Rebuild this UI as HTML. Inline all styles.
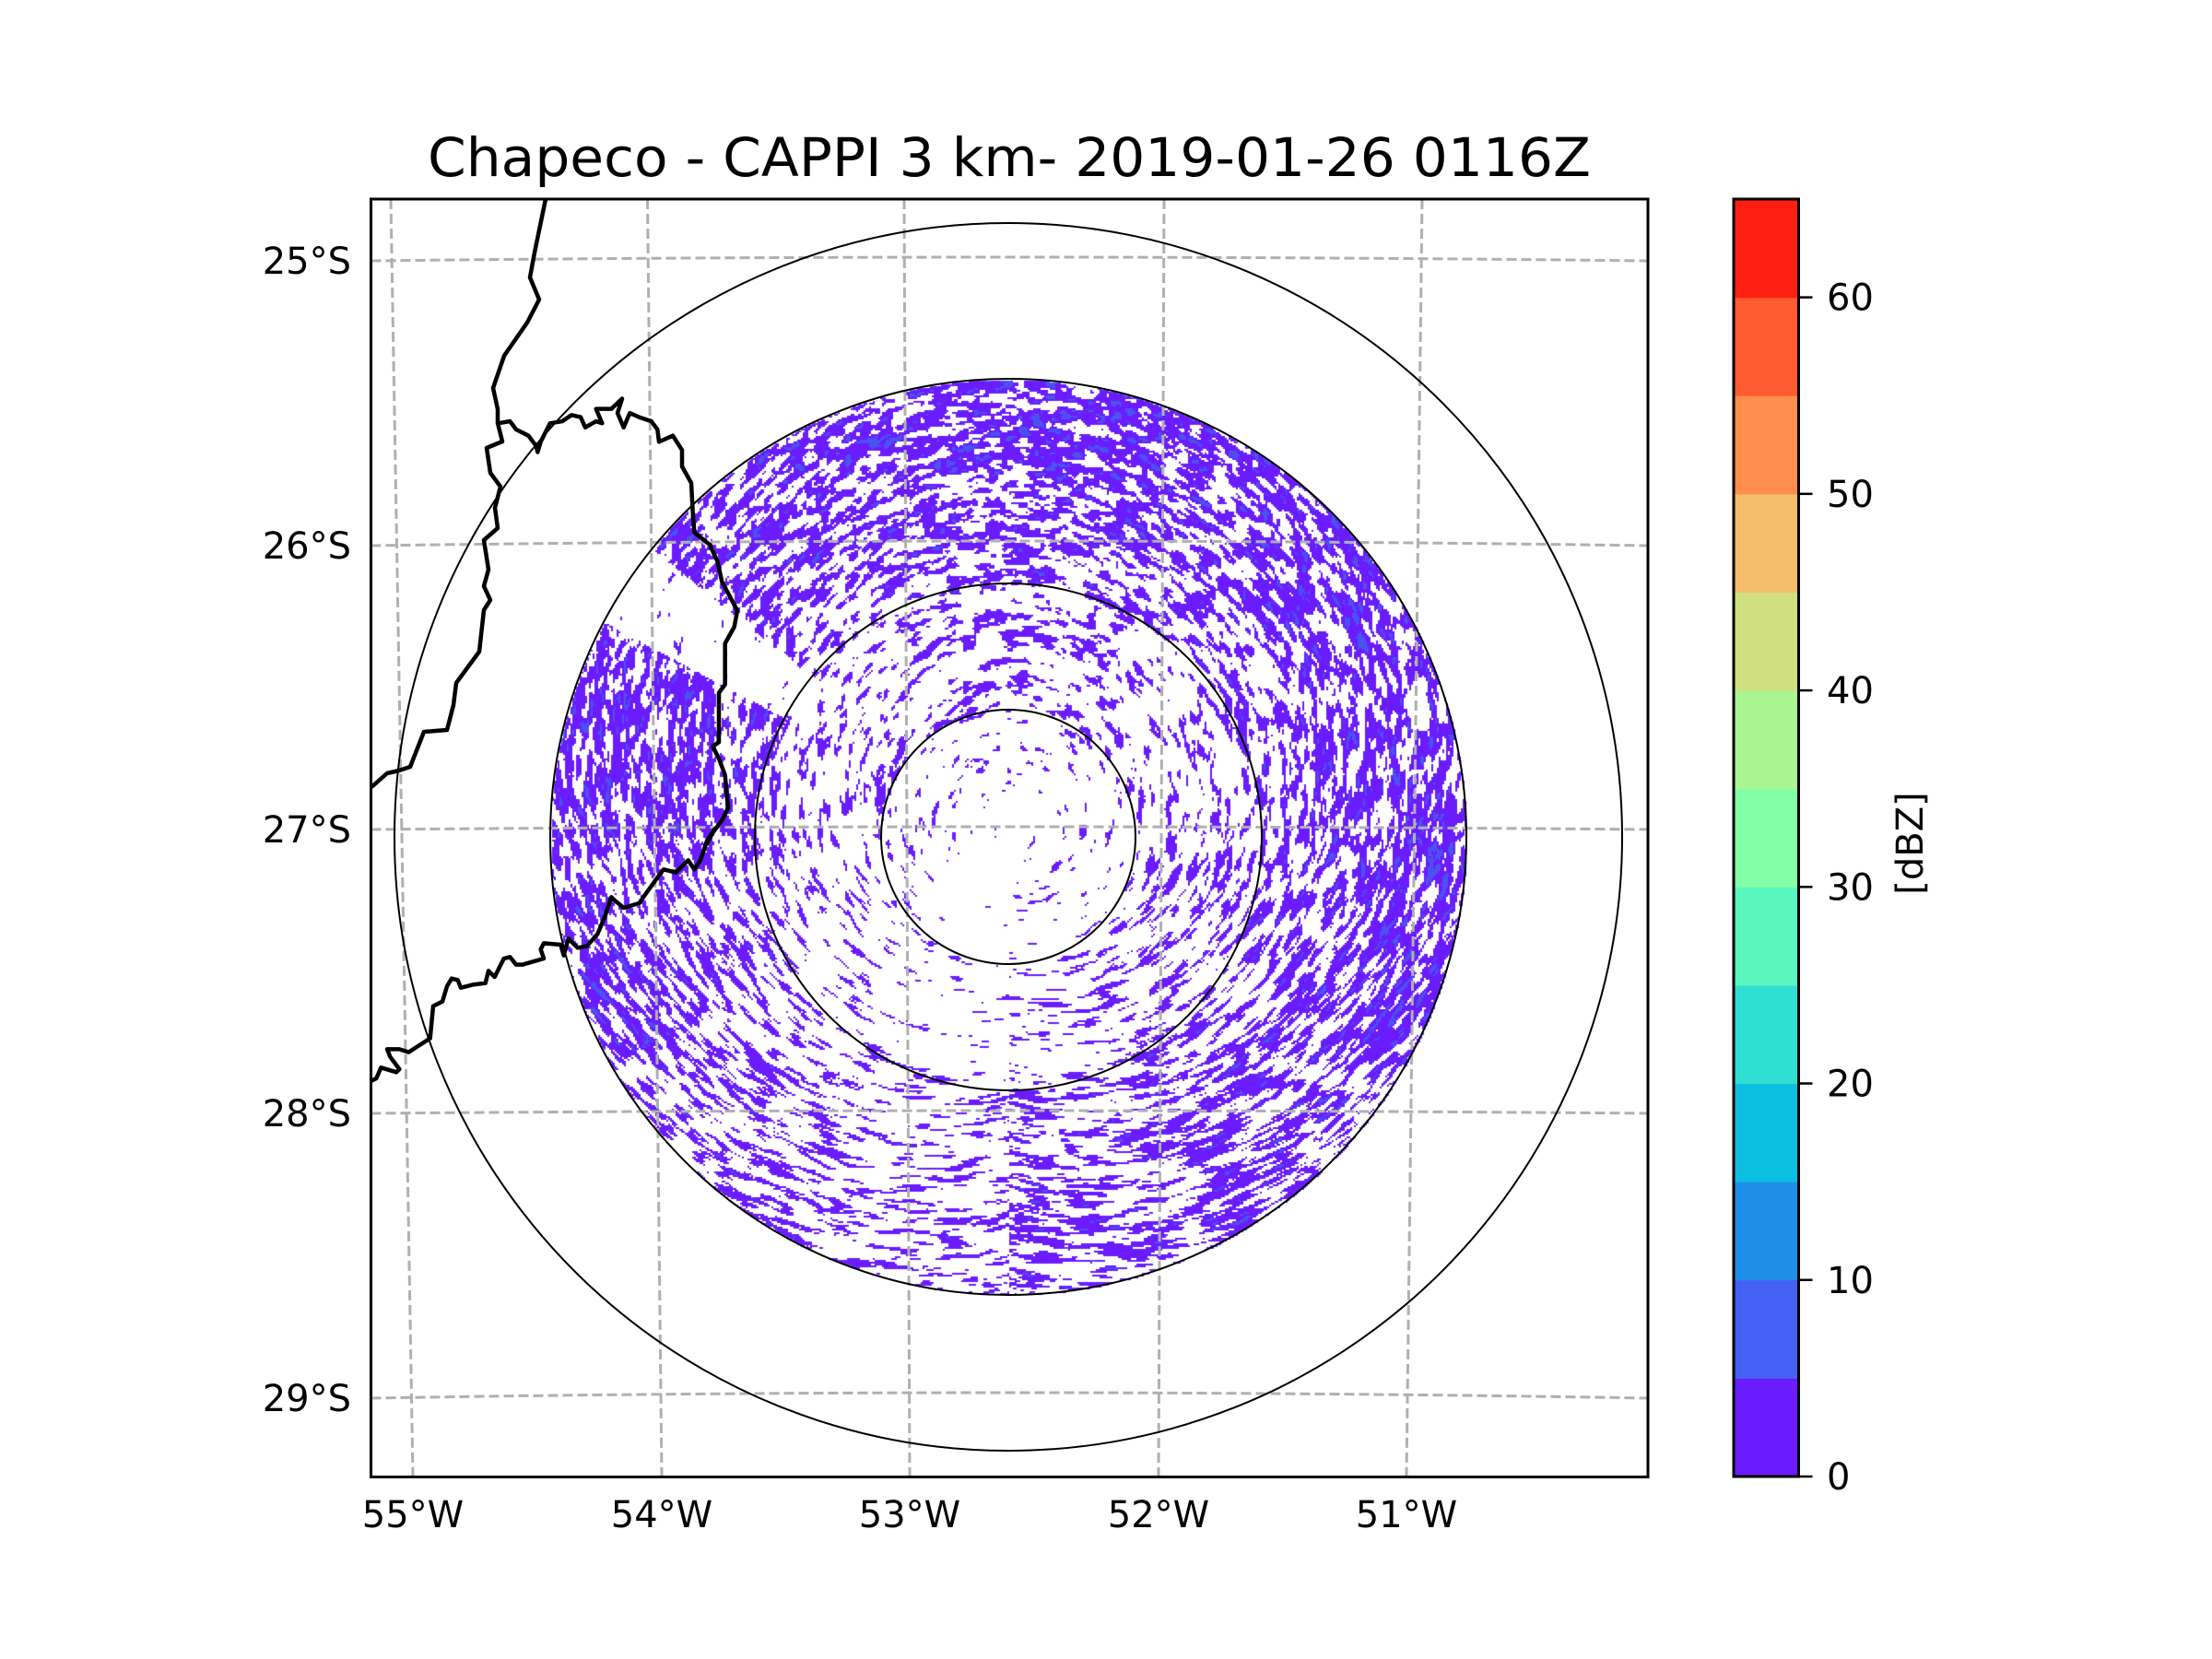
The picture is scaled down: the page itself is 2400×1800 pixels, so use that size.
<!DOCTYPE html>
<html><head><meta charset="utf-8"><style>
html,body{margin:0;padding:0;background:#fff;}
#wrap{position:relative;width:2400px;height:1800px;overflow:hidden;background:#fff;}
#radar{position:absolute;left:0;top:0;}
#ov{position:absolute;left:0;top:0;}
text{font-family:"DejaVu Sans","Liberation Sans",sans-serif;fill:#000;}
</style></head><body>
<div id="wrap">
<canvas id="radar" width="2400" height="1800"></canvas>
<svg id="ov" width="2400" height="1800" xmlns="http://www.w3.org/2000/svg">
<text x="1095" y="191" font-size="58" text-anchor="middle" textLength="1262" lengthAdjust="spacingAndGlyphs">Chapeco - CAPPI 3 km- 2019-01-26 0116Z</text>
<g id="grid"></g>
<g id="rings"></g>
<g id="borders"></g>
<rect x="402.5" y="216" width="1385.5" height="1386.5" fill="none" stroke="#000" stroke-width="3"/>
<g id="xlabels"></g>
<g id="ylabels"></g>
<g id="cbar"></g>
<text transform="translate(2086,915) rotate(-90)" font-size="40" text-anchor="middle">[dBZ]</text>
</svg>
</div>
<script>
// ---- data ----
const lonLabels = ["55°W","54°W","53°W","52°W","51°W"];
const latLabels = ["25°S","26°S","27°S","28°S","29°S"];
const cbarTicks = [0,10,20,30,40,50,60];
const cbarLevels = [0,5,10,15,20,25,30,35,40,45,50,55,60,65];
const cbarColors = ["#6a1cff","#4460f5","#1e8ee8","#0abfe0","#2edfd2","#5af6be","#82ffa6","#a8f592","#d0df80","#f4be6c","#ff8e4e","#ff5a32","#ff1e12"];
const ringRadii = [138,275,497,666]; // px range rings
const ringEdges = [0,0.28,0.55,0.7,0.85,1.0];
const ringCoverage = [0.06,0.17,0.34,0.48,0.55];
const sectorFactor = [1.4,1.2,1.2,1.35,1.1,0.75,0.42,0.58,0.95,1.35,1.05,1.3]; // 30° sectors clockwise from north
const gapAz = [298,309];

// ---- geometry ----
const NS="http://www.w3.org/2000/svg";
const CX=1094, CY=908;
const AX={l:402.5,r:1788,t:216,b:1602.5};
function el(tag,attrs,parent){const e=document.createElementNS(NS,tag);for(const k in attrs)e.setAttribute(k,attrs[k]);parent.appendChild(e);return e;}

const grid=document.getElementById('grid');
const lonTop=[424,702.5,981,1263,1543], lonBot=[448,718,987,1257,1526];
const latL=[283,592,900,1208,1517], latM=[279,587,897,1205,1511];
lonLabels.forEach((s,i)=>{
  const g=el('line',{x1:lonTop[i],y1:AX.t,x2:lonBot[i],y2:AX.b,stroke:'#b0b0b0','stroke-width':3,'stroke-dasharray':'11 5'},grid);
  
  
  const t=el('text',{x:lonBot[i],y:1657,'font-size':40,'text-anchor':'middle'},document.getElementById('xlabels'));
  t.textContent=s;
  
  
});
latLabels.forEach((s,i)=>{
  const cy=2*latM[i]-latL[i];
  const g=el('path',{d:`M${AX.l},${latL[i]} Q1095,${cy} ${AX.r},${latL[i]}`,fill:'none',stroke:'#b0b0b0','stroke-width':3,'stroke-dasharray':'11 5'},grid);
  
  
  const t=el('text',{x:381,y:latL[i]+14,'font-size':40,'text-anchor':'end'},document.getElementById('ylabels'));
  t.textContent=s;
  
  
});

const rings=document.getElementById('rings');
ringRadii.forEach(r=>{
  const c=el('circle',{cx:CX,cy:CY,r:r,fill:'none',stroke:'#000','stroke-width':2},rings);
  
  
});

const b=document.getElementById('borders');
const lineA=[[592,216],[580,274],[575,301],[585,325],[572,350],[547,386],[535,421],[540,444],[540,459],[545,479],[528,486],[532,513],[543,528],[537,551],[540,573],[525,586],[530,618],[525,636],[532,651],[525,662],[520,707],[495,741],[492,765],[485,792],[460,794],[445,832],[433,836],[420,839],[403,854]];
const z3=[[420,545],[460,540],[480,560],[520,575],[545,600],[550,615],[560,590],[590,545],[630,540],[660,525],[690,530],[705,555],[740,540],[760,545],[740,510],[790,510],[825,485],[810,520],[830,555],[850,520],[880,530],[920,540],[940,560],[945,590],[990,575],[1020,610],[1020,650],[1050,690],[1055,760],[1060,810],[1110,840],[1135,880],[1150,930],[1200,1000],[1190,1040],[1160,1080],[1160,1180],[1140,1200],[1140,1320],[1120,1330],[1140,1360],[1160,1400],[1170,1480],[1150,1510],[1110,1550],[1100,1568]];
const z4=[[1125,0],[1100,40],[1080,100],[1060,130],[1040,100],[1000,140],[960,130],[930,170],[880,240],[830,255],[800,230],[790,220],[770,280],[745,340],[710,380],[680,385],[650,355],[635,410],[625,375],[570,370],[560,390],[570,420],[500,440],[480,440],[460,415],[440,420],[410,480],[390,460],[380,500],[340,505],[300,515],[290,490],[270,485],[255,510],[240,560],[210,575],[200,680],[130,725],[100,715],[60,715],[70,740],[100,780],[90,790],[40,775],[25,810],[5,820]];
const lineB=[[540,459]].concat(z3.map(p=>[400+p[0]/3,216+p[1]*0.4464])).concat(z4.map(p=>[400+p[0]/3,900+p[1]/3]));
[lineA,lineB].forEach((pts,i)=>{
  const p=el('polyline',{points:pts.map(q=>q.join(',')).join(' '),fill:'none',stroke:'#000','stroke-width':4.5,'stroke-linejoin':'round'},b);
  
  
});

const cb=document.getElementById('cbar');
const CB={l:1881,r:1951.5,t:216,b:1602};
const vy=v=>CB.b-(v-cbarLevels[0])/(cbarLevels[cbarLevels.length-1]-cbarLevels[0])*(CB.b-CB.t);
cbarColors.forEach((c,i)=>{
  const r=el('rect',{x:CB.l,y:vy(cbarLevels[i+1]),width:CB.r-CB.l,height:vy(cbarLevels[i])-vy(cbarLevels[i+1])+0.5,fill:c},cb);
  
  
});
el('rect',{x:CB.l,y:CB.t,width:CB.r-CB.l,height:CB.b-CB.t,fill:'none',stroke:'#000','stroke-width':3},cb);
cbarTicks.forEach(v=>{
  el('line',{x1:CB.r,y1:vy(v),x2:CB.r+15,y2:vy(v),stroke:'#000','stroke-width':2.5},cb);
  const t=el('text',{x:1982,y:vy(v)+14,'font-size':40},cb);
  t.textContent=String(v);
  
  
});

// radar speckle field (texture driven by coverage arrays)
const ctx=document.getElementById('radar').getContext('2d');
function h(ix,iy){const s=Math.sin(ix*127.1+iy*311.7)*43758.5453;return s-Math.floor(s);}
function sm(t){return t*t*(3-2*t);}
function vn(x,y){const ix=Math.floor(x),iy=Math.floor(y),fx=sm(x-ix),fy=sm(y-iy);
  const a=h(ix,iy),b2=h(ix+1,iy),c=h(ix,iy+1),d=h(ix+1,iy+1);
  return a+(b2-a)*fx+(c-a)*fy+(a-b2-c+d)*fx*fy;}
const R=497, S=2;
for(let y=CY-R;y<CY+R;y+=S){for(let x=CX-R;x<CX+R;x+=S){
  const dx=x-CX,dy=y-CY,rp=Math.sqrt(dx*dx+dy*dy),r=rp/R; if(r>1)continue;
  const th=Math.atan2(dx,-dy);
  let az=th*180/Math.PI; if(az<0)az+=360;
  let ri=0; while(ri<ringCoverage.length-1&&r>ringEdges[ri+1])ri++;
  let c=ringCoverage[ri]*sectorFactor[Math.floor(az/30)%12];
  if(az>gapAz[0]&&az<gapAz[1]&&r>0.55)c*=0.05;
  if(r<0.1)c*=0.3;
  c=Math.min(0.93,Math.max(0.01,c));
  const arc=th*rp;
  const n=0.6*vn(rp/6,arc/15)+0.4*vn(rp/3+50,arc/6+30);
  const t=0.5+0.15*Math.log(c/(1-c))/1.7;
  if(n<t){ctx.fillStyle=(n<t-0.3&&r>0.55)?'#4a52f4':'#6a1cff';ctx.fillRect(x,y,S,S);}
}}
</script>
</body></html>
